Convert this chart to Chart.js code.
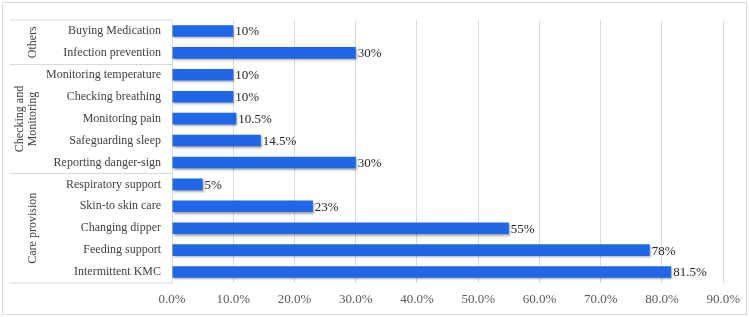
<!DOCTYPE html>
<html lang="en">
<head>
<meta charset="UTF-8">
<title>Care activities</title>
<script src="https://cdn.jsdelivr.net/npm/chart.js"></script>
<style>
    body { margin: 0; background: #fff; }
    #grafico { display: block; }
</style>
</head>
<body>
<canvas id="grafico" width="749" height="317"></canvas>

<script>
    // dados (de cima para baixo)
    var atividades = ['Buying Medication', 'Infection prevention', 'Monitoring temperature', 'Checking breathing',
        'Monitoring pain', 'Safeguarding sleep', 'Reporting danger-sign', 'Respiratory support',
        'Skin-to skin care', 'Changing dipper', 'Feeding support', 'Intermittent KMC']
    var percentuais = [10, 30, 10, 10, 10.5, 14.5, 30, 5, 23, 55, 78, 81.5]
    var rotulosValor = ['10%', '30%', '10%', '10%', '10.5%', '14.5%', '30%', '5%', '23%', '55%', '78%', '81.5%']
    var grupos = [['Others'], ['Checking and', 'Monitoring'], ['Care provision']]
    var tamanhoGrupos = [2, 5, 5]
    var ticksX = [0, 10, 20, 30, 40, 50, 60, 70, 80, 90]

    var fonte = '"Liberation Serif", "Times New Roman", serif'
    var corLinha = '#d9d9d9'

    // borda, grupos e linhas separadoras
    const pluginGrupos = {
        id: 'grupos',
        beforeDraw(chart) {
            const c = chart.ctx
            c.save()
            c.fillStyle = '#fff'
            c.fillRect(0, 0, chart.width, chart.height)
            c.strokeStyle = corLinha
            c.lineWidth = 1
            c.strokeRect(2.5, 2.5, chart.width - 5, chart.height - 5)
            c.restore()
        },
        afterDraw(chart) {
            const c = chart.ctx
            const area = chart.chartArea
            const y = chart.scales.y
            c.save()
            c.strokeStyle = corLinha
            c.lineWidth = 1
            var limites = [area.top]
            var idx = 0
            tamanhoGrupos.forEach((n, g) => {
                idx += n
                if (idx < atividades.length) {
                    limites.push(Math.round((y.getPixelForValue(idx - 1) + y.getPixelForValue(idx)) / 2) + 0.5)
                } else {
                    limites.push(area.bottom)
                }
            })
            limites.forEach(ly => {
                c.beginPath()
                c.moveTo(10, ly)
                c.lineTo(area.left, ly)
                c.stroke()
            })
            // texto dos grupos girado
            c.fillStyle = '#404040'
            c.font = '12px ' + fonte
            c.textAlign = 'center'
            c.textBaseline = 'middle'
            grupos.forEach((linhas, g) => {
                var meio = (limites[g] + limites[g + 1]) / 2
                linhas.forEach((txt, k) => {
                    var x = 33 - 13 * (linhas.length - 1 - k)
                    c.save()
                    c.translate(x, meio)
                    c.rotate(-Math.PI / 2)
                    c.fillText(txt, 0, 0)
                    c.restore()
                })
            })
            c.restore()
        },
        beforeDatasetsDraw(chart) {
            const c = chart.ctx
            c.save()
            c.shadowColor = 'rgba(0, 0, 0, 0.35)'
            c.shadowOffsetX = 1
            c.shadowOffsetY = 1.5
            c.shadowBlur = 2
        },
        afterDatasetsDraw(chart) {
            const c = chart.ctx
            c.restore()
            c.save()
            c.fillStyle = '#262626'
            c.font = '13px ' + fonte
            c.textAlign = 'left'
            c.textBaseline = 'middle'
            chart.getDatasetMeta(0).data.forEach((barra, i) => {
                c.fillText(rotulosValor[i], barra.x + 2, barra.y + 1)
            })
            c.restore()
        }
    }

    new Chart(document.getElementById('grafico'), {
        type: 'bar',
        data: {
            labels: atividades,
            datasets: [{
                data: percentuais,
                backgroundColor: '#1f67e6',
                borderWidth: 0,
                categoryPercentage: 1,
                barPercentage: 0.53
            }]
        },
        options: {
            indexAxis: 'y',
            responsive: false,
            animation: false,
            layout: { padding: { top: 20, right: 23, bottom: 0, left: 0 } },
            plugins: {
                legend: { display: false },
                tooltip: { enabled: false }
            },
            scales: {
                x: {
                    min: 0,
                    max: 90,
                    afterBuildTicks(scale) {
                        scale.ticks = ticksX.map(v => ({ value: v }))
                    },
                    afterFit(scale) { scale.height = 34 },
                    grid: { color: corLinha, drawTicks: false },
                    border: { display: false },
                    ticks: {
                        padding: 9,
                        color: '#595959',
                        font: { family: fonte, size: 13 },
                        callback: v => v.toFixed(1) + '%'
                    }
                },
                y: {
                    afterFit(scale) { scale.width = 172 },
                    grid: { display: false, drawTicks: false },
                    border: { display: true, color: corLinha },
                    ticks: {
                        padding: 11,
                        color: '#404040',
                        font: { family: fonte, size: 12 }
                    }
                }
            }
        },
        plugins: [pluginGrupos]
    })
</script>
</body>
</html>
